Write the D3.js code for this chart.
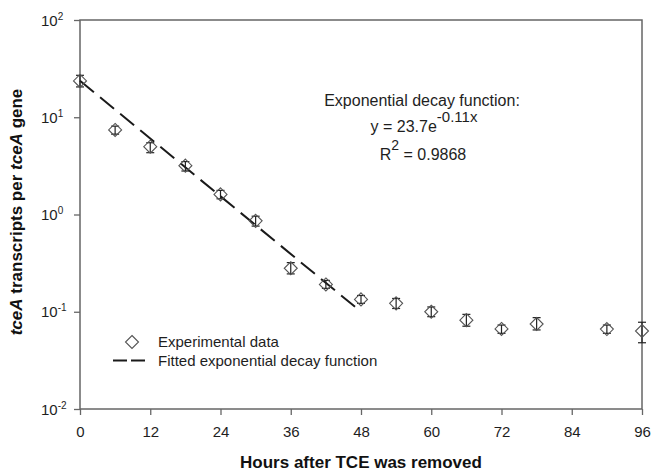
<!DOCTYPE html>
<html>
<head>
<meta charset="utf-8">
<script src="https://cdn.jsdelivr.net/npm/d3@7"></script>
<style>
  html, body { margin: 0; padding: 0; background: #fff; }
  svg { display: block; font-family: Arial, "Liberation Sans", sans-serif; }
</style>
</head>
<body>
<svg id="chart" width="651" height="472"></svg>
<script>
// ---- data ----
const hours = [0, 6, 12, 18, 24, 30, 36, 42, 48, 54, 60, 66, 72, 78, 90, 96];
const transcripts = [23.6, 7.4, 4.98, 3.18, 1.61, 0.86, 0.28, 0.191, 0.134, 0.122, 0.100, 0.082, 0.0665, 0.0748, 0.0664, 0.0634];
const errLow  = [20.5, 6.7, 4.32, 2.8, 1.45, 0.76, 0.245, 0.174, 0.122, 0.108, 0.089, 0.071, 0.060, 0.0650, 0.060, 0.048];
const errHigh = [27.0, 8.1, 5.47, 3.5, 1.77, 0.96, 0.32, 0.21, 0.147, 0.137, 0.112, 0.094, 0.073, 0.087, 0.073, 0.078];
const fitHours = [0, 48];
const fitValues = [23.7, 0.1];
const xTicks = [0, 12, 24, 36, 48, 60, 72, 84, 96];
const yTicks = [0.01, 0.1, 1, 10, 100];
const yTickExp = ["-2", "-1", "0", "1", "2"];

// ---- layout ----
const svg = d3.select("#chart");
const margin = { left: 80, right: 9, top: 20, bottom: 63 };
const W = 651, H = 472;
const x = d3.scaleLinear().domain([0, 96]).range([margin.left, W - margin.right]);
const y = d3.scaleLog().domain([0.01, 100]).range([H - margin.bottom, margin.top]);
const axisColor = "#666";
const txt = "#1e1e1e";

// frame
svg.append("rect")
  .attr("x", x(0)).attr("y", y(100))
  .attr("width", x(96) - x(0)).attr("height", y(0.01) - y(100))
  .attr("fill", "none").attr("stroke", axisColor).attr("stroke-width", 1.5);

// x axis
const xAxis = svg.append("g")
  .attr("transform", `translate(0,${y(0.01)})`)
  .call(d3.axisBottom(x).tickValues(xTicks).tickSize(6).tickPadding(11).tickFormat(d3.format("d")));
xAxis.select(".domain").remove();
xAxis.selectAll("line").attr("stroke", axisColor).attr("stroke-width", 1.3);
xAxis.selectAll("text").attr("fill", txt).style("font-size", "15px").style("font-family", "Arial, 'Liberation Sans', sans-serif");

// y axis
const yAxis = svg.append("g")
  .attr("transform", `translate(${x(0)},0)`)
  .call(d3.axisLeft(y).tickValues(yTicks).tickSize(6).tickFormat(() => ""));
yAxis.select(".domain").remove();
yAxis.selectAll("line").attr("stroke", axisColor).attr("stroke-width", 1.3);
yTicks.forEach((v, i) => {
  const t = svg.append("text")
    .attr("x", 41).attr("y", y(v) + 5.5)
    .attr("text-anchor", "start").attr("fill", txt)
    .style("font-size", "15px");
  t.append("tspan").text("10");
  t.append("tspan").attr("dy", -6).style("font-size", "10px").text(yTickExp[i]);
});

// axis titles
svg.append("text")
  .attr("x", 361).attr("y", 468)
  .attr("text-anchor", "middle").attr("fill", "#111")
  .style("font-size", "17px").style("font-weight", "bold")
  .text("Hours after TCE was removed");

const yt = svg.append("text")
  .attr("transform", `translate(22,212) rotate(-90)`)
  .attr("text-anchor", "middle").attr("fill", "#111")
  .style("font-size", "17px").style("font-weight", "bold");
yt.append("tspan").style("font-style", "italic").text("tceA");
yt.append("tspan").text(" transcripts per ");
yt.append("tspan").style("font-style", "italic").text("tceA");
yt.append("tspan").text(" gene");

// fitted line
const line = d3.line().x(d => x(d[0])).y(d => y(d[1]));
svg.append("path")
  .datum(fitHours.map((h, i) => [h, fitValues[i]]))
  .attr("d", line)
  .attr("fill", "none").attr("stroke", "#1a1a1a").attr("stroke-width", 2)
  .attr("stroke-dasharray", "18,8");

// error bars + diamonds
const pts = hours.map((h, i) => ({ h, v: transcripts[i], lo: errLow[i], hi: errHigh[i] }));
const g = svg.append("g");
const capW = 4;
pts.forEach(p => {
  const cx = x(p.h);
  g.append("line").attr("x1", cx).attr("x2", cx).attr("y1", y(p.lo)).attr("y2", y(p.hi))
    .attr("stroke", "#222").attr("stroke-width", 1.2);
  [p.lo, p.hi].forEach(v => {
    g.append("line").attr("x1", cx - capW).attr("x2", cx + capW).attr("y1", y(v)).attr("y2", y(v))
      .attr("stroke", "#222").attr("stroke-width", 1.2);
  });
});
const diamond = (cx, cy, r) => `M${cx},${cy - r}L${cx + r},${cy}L${cx},${cy + r}L${cx - r},${cy}Z`;
pts.forEach(p => {
  g.append("path").attr("d", diamond(x(p.h), y(p.v), 6.5))
    .attr("fill", "none").attr("stroke", "#555").attr("stroke-width", 1.1);
});

// annotation
const ann = svg.append("g").attr("fill", txt).style("font-size", "16px").attr("text-anchor", "middle");
ann.append("text").attr("x", 422).attr("y", 106).text("Exponential decay function:");
const eq = ann.append("text").attr("x", 424).attr("y", 132);
eq.append("tspan").text("y = 23.7e");
eq.append("tspan").attr("dy", -10).style("font-size", "15px").text("-0.11x");
const r2 = ann.append("text").attr("x", 423).attr("y", 160);
r2.append("tspan").text("R");
r2.append("tspan").attr("dy", -10).style("font-size", "14px").text("2");
r2.append("tspan").attr("dy", 10).text(" = 0.9868");

// legend
svg.append("path").attr("d", diamond(132, 342, 6.5)).attr("fill", "none").attr("stroke", "#555").attr("stroke-width", 1.1);
svg.append("text").attr("x", 158).attr("y", 347).attr("fill", txt).style("font-size", "15px").text("Experimental data");
svg.append("line").attr("x1", 113).attr("x2", 145).attr("y1", 360.5).attr("y2", 360.5)
  .attr("stroke", "#1a1a1a").attr("stroke-width", 2).attr("stroke-dasharray", "14,4");
svg.append("text").attr("x", 158).attr("y", 366).attr("fill", txt).style("font-size", "15px").text("Fitted exponential decay function");
</script>
</body>
</html>
